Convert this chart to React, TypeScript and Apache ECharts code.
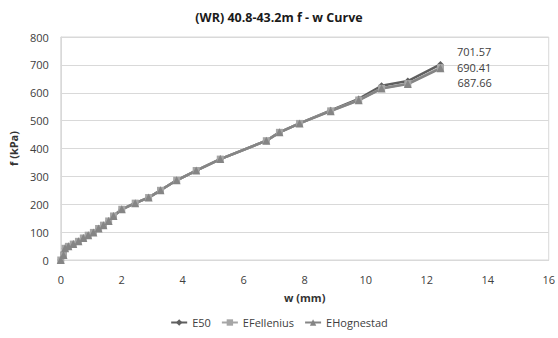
import React, { useEffect, useRef } from "react";
import * as echarts from "echarts";

const TITLE = "(WR) 40.8-43.2m f - w Curve";
const X_NAME = "w (mm)";
const Y_NAME = "f (kPa)";

const w = [0, 0.09, 0.14, 0.25, 0.41, 0.58, 0.74, 0.9, 1.07, 1.24, 1.4, 1.57, 1.73, 2.0, 2.44, 2.88, 3.27, 3.8, 4.44, 5.23, 6.74, 7.17, 7.83, 8.85, 9.77, 10.52, 11.38, 12.45];
const fE50 = [0, 18, 42, 49, 57, 67, 79, 89, 99, 113, 125, 140, 158, 182, 204, 224, 250, 286, 321, 362, 428, 458, 490, 537, 578, 625, 642, 701.57];
const fEFellenius = [0, 18, 42, 49, 57, 67, 79, 89, 99, 113, 125, 140, 158, 182, 204, 224, 250, 286, 321, 362, 428, 458, 490, 535, 574, 616, 633, 690.41];
const fEHognestad = [0, 18, 42, 49, 57, 67, 79, 89, 99, 113, 125, 140, 158, 182, 204, 224, 250, 286, 321, 362, 428, 458, 490, 534, 573, 615, 631, 687.66];

const SERIES_NAMES = ["E50", "EFellenius", "EHognestad"];
const COLORS = ["#5f5f5f", "#a6a6a6", "#858585"];
const SYMBOLS = ["diamond", "rect", "triangle"];
const LABEL_OFFSETS = [[8, -13], [8, 0], [8, 14]];

const FONT = "'Open Sans', 'Liberation Sans', sans-serif";

export default function App() {
  const ref = useRef<HTMLDivElement>(null);
  useEffect(() => {
    const chart = echarts.init(ref.current!, null, { renderer: "svg" });
    const datasets = [fE50, fEFellenius, fEHognestad];
    chart.setOption({
      animation: false,
      backgroundColor: "#ffffff",
      title: {
        text: TITLE,
        left: "center",
        top: 6,
        textStyle: { fontFamily: FONT, fontSize: 12.5, fontWeight: "bold", color: "#1a1a1a" },
      },
      legend: {
        bottom: 5,
        left: "center",
        itemWidth: 16,
        itemHeight: 8,
        itemGap: 10,
        textStyle: { fontFamily: FONT, fontSize: 11, color: "#404040" },
        data: SERIES_NAMES,
      },
      grid: {
        left: 59,
        right: 9,
        top: 37,
        bottom: 78,
        show: true,
        borderColor: "#d9d9d9",
        borderWidth: 1,
      },
      xAxis: {
        type: "value",
        min: 0,
        max: 16,
        interval: 2,
        name: X_NAME,
        nameLocation: "middle",
        nameGap: 32,
        nameTextStyle: { fontFamily: FONT, fontSize: 11, fontWeight: "bold", color: "#333" },
        axisLine: { show: true, lineStyle: { color: "#d9d9d9" } },
        axisTick: { show: false },
        splitLine: { show: false },
        axisLabel: { fontFamily: FONT, fontSize: 11, color: "#404040", margin: 14 },
      },
      yAxis: {
        type: "value",
        min: 0,
        max: 800,
        interval: 100,
        name: Y_NAME,
        nameLocation: "middle",
        nameGap: 37,
        nameRotate: 90,
        nameTextStyle: { fontFamily: FONT, fontSize: 11, fontWeight: "bold", color: "#333" },
        axisLine: { show: true, lineStyle: { color: "#d9d9d9" } },
        axisTick: { show: false },
        splitLine: { show: true, lineStyle: { color: "#d9d9d9" } },
        axisLabel: { fontFamily: FONT, fontSize: 11, color: "#404040", margin: 12 },
      },
      series: SERIES_NAMES.map((name, i) => ({
        name,
        type: "line",
        data: w.map((x, j) => [x, datasets[i][j]]),
        symbol: SYMBOLS[i],
        symbolSize: i === 2 ? 8 : 7,
        showAllSymbol: true,
        lineStyle: { color: COLORS[i], width: 2.5 },
        itemStyle: { color: COLORS[i] },
        label: {
          show: true,
          position: "right",
          offset: LABEL_OFFSETS[i],
          fontFamily: FONT,
          fontSize: 11,
          color: "#404040",
          formatter: (p: any) => (p.dataIndex === w.length - 1 ? datasets[i][p.dataIndex].toFixed(2) : ""),
        },
      })),
    });
    return () => chart.dispose();
  }, []);
  return <div ref={ref} style={{ position: "fixed", left: 0, top: 0, width: 558, height: 338 }} />;
}
